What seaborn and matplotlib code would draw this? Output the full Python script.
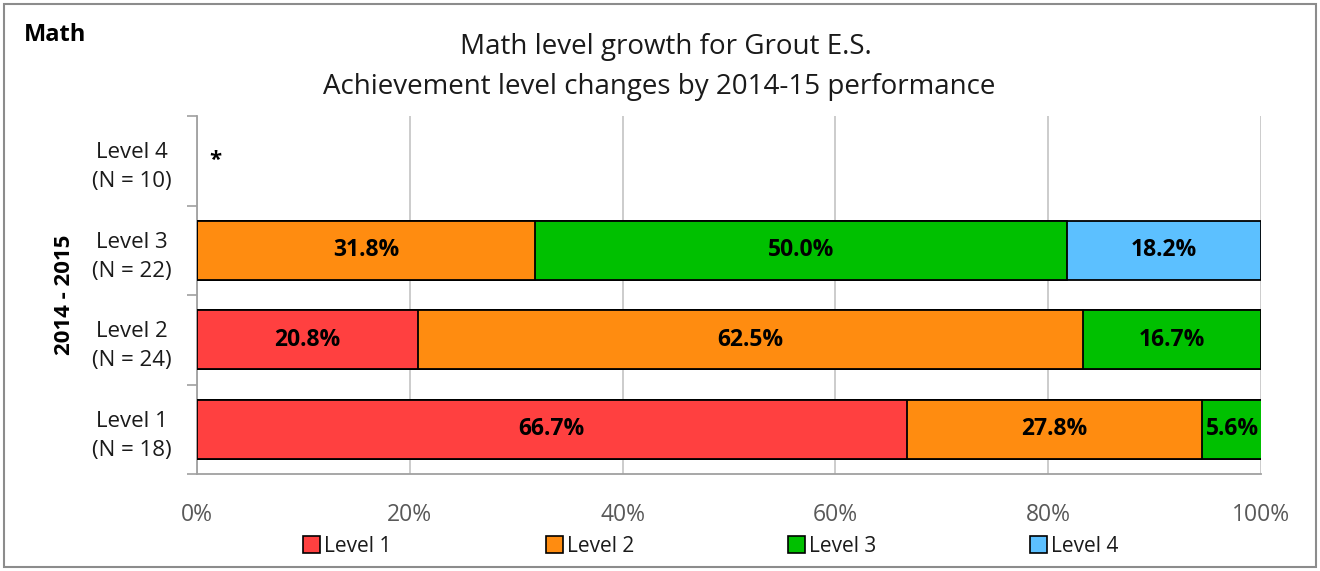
import numpy as np
import pandas as pd
import matplotlib
matplotlib.use("Agg")
import matplotlib.pyplot as plt
from matplotlib.patches import Rectangle, Patch
import seaborn as sns

# ---- data ----
categories = ["Level 4\n(N = 10)", "Level 3\n(N = 22)", "Level 2\n(N = 24)", "Level 1\n(N = 18)"]
series = ["Level 1", "Level 2", "Level 3", "Level 4"]
level1 = [np.nan, 0.0, 20.8, 66.7]
level2 = [np.nan, 31.8, 62.5, 27.8]
level3 = [np.nan, 50.0, 16.7, 5.6]
level4 = [np.nan, 18.2, 0.0, 0.0]
suppressed = [True, False, False, False]
xticks = [0, 20, 40, 60, 80, 100]
xticklabels = ["0%", "20%", "40%", "60%", "80%", "100%"]
colors = ["#FF4040", "#FF8C10", "#00C000", "#5CC0FF"]

sns.set_theme(style="white")
plt.rcParams['font.family'] = ['Open Sans', 'DejaVu Sans']

fig = plt.figure(figsize=(13.2, 5.71), dpi=100)
ax = fig.add_axes([197/1320, 1 - 474/571, (1261-197)/1320, (474-116)/571])

vals = np.array([level1, level2, level3, level4], dtype=float)  # series x categories
cum = np.nancumsum(np.nan_to_num(vals), axis=0)
cum[:, np.isnan(vals[0])] = np.nan

# draw cumulative bars from the top level down so each segment shows
for i in range(len(series) - 1, -1, -1):
    df = pd.DataFrame({"cat": categories, "value": cum[i]})
    sns.barplot(data=df, y="cat", x="value", order=categories, orient="h",
                color=colors[i], saturation=1, width=0.66, edgecolor="black",
                linewidth=1.3, ax=ax, zorder=3)

# value labels
for j, cat in enumerate(categories):
    if suppressed[j]:
        ax.text(1.2, j, "*", ha="left", va="center", fontsize=16, fontweight="bold", color="black")
        continue
    left = 0.0
    for i in range(len(series)):
        v = vals[i, j]
        if v > 0:
            ax.text(left + v / 2, j, f"{v:.1f}%", ha="center", va="center",
                    fontsize=16.5, fontweight="bold", color="black", zorder=5)
        left += v

ax.set_xlim(0, 100)
ax.set_ylim(len(categories) - 0.5, -0.5)
ax.set_xticks(xticks)
ax.set_xticklabels(xticklabels, color="#595959", fontsize=16.5)
ax.tick_params(axis="x", direction="out", length=10, color="#BFBFBF", width=1.2, pad=11)
ax.grid(axis="x", color="#C8C8C8", linewidth=1.3, zorder=0)
ax.set_axisbelow(True)

# y ticks: marks at category boundaries, labels at centers
ax.set_yticks(np.arange(-0.5, len(categories), 1.0))
ax.set_yticklabels([])
ax.tick_params(axis="y", which="major", direction="out", length=7, color="#A0A0A0", width=1.2, left=True)
ax.set_yticks(np.arange(len(categories)), minor=True)
ax.set_yticklabels(categories, minor=True, fontsize=16, color="#1a1a1a", ha="center",
                   multialignment="center", linespacing=1.5)
ax.tick_params(axis="y", which="minor", length=0, pad=47)
ax.set_ylabel("2014 - 2015", fontsize=16, fontweight="bold", color="black", labelpad=12)
ax.set_xlabel("")

for s in ["top", "right"]:
    ax.spines[s].set_visible(False)
for s in ["left", "bottom"]:
    ax.spines[s].set_visible(True)
    ax.spines[s].set_color("#A0A0A0")
    ax.spines[s].set_linewidth(1.3)

# titles
fig.text(666/1320, 1 - 47/571, "Math level growth for Grout E.S.", ha="center", va="center", fontsize=20, color="#1a1a1a")
fig.text(659/1320, 1 - 87/571, "Achievement level changes by 2014-15 performance", ha="center", va="center", fontsize=20, color="#1a1a1a")
fig.text(24/1320, 1 - 35/571, "Math", ha="left", va="center", fontsize=17, fontweight="bold", color="black")

# legend
handles = [Patch(facecolor=c, edgecolor="black", linewidth=1.2) for c in colors]
fig.legend(handles, series, loc="center", bbox_to_anchor=(711/1320, 1 - 546/571), ncol=4,
           frameon=False, fontsize=15, handlelength=0.8, handleheight=0.9,
           handletextpad=0.2, columnspacing=7.4, labelcolor="#1a1a1a")

# figure border
fig.patches.append(Rectangle((4/1320, 4/571), 1 - 8/1320, 1 - 8/571, transform=fig.transFigure,
                             fill=False, edgecolor="#8C8C8C", linewidth=1.5))

fig.savefig("out.png", dpi=100)
